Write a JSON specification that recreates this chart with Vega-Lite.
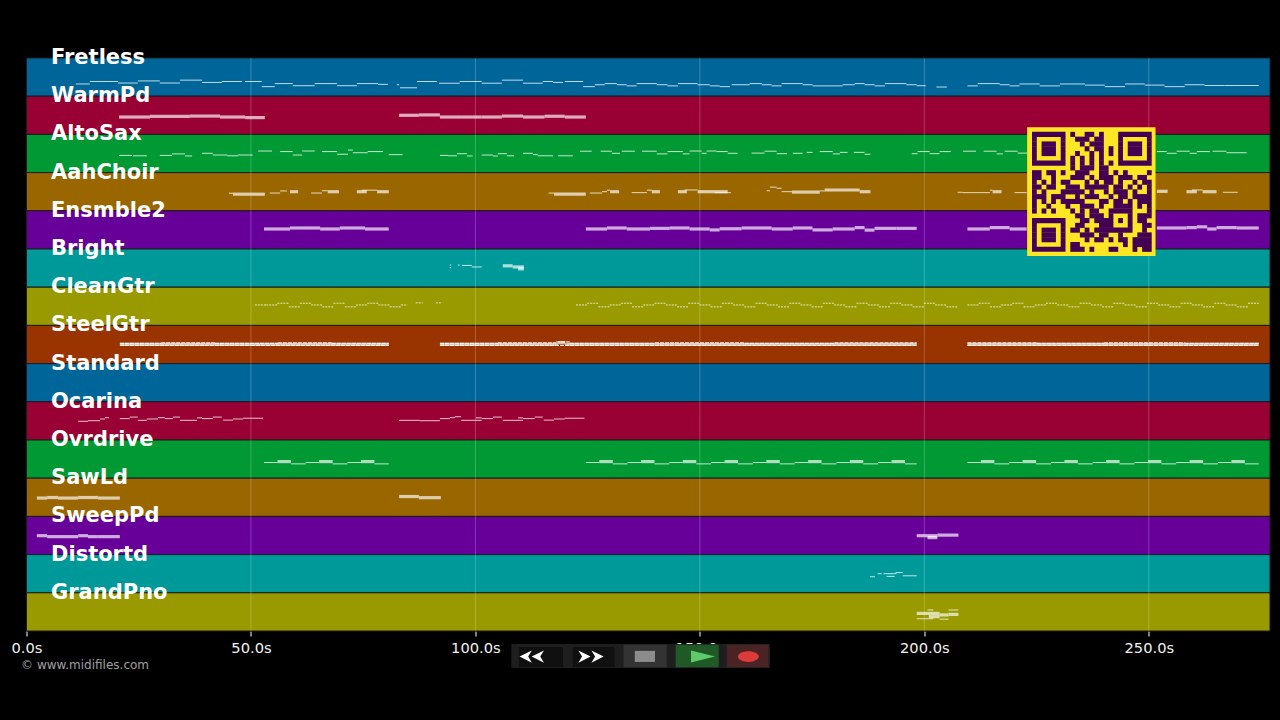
{"$schema":"https://vega.github.io/schema/vega-lite/v6.json","width":1243.5,"height":573,"autosize":"none","padding":{"left":26.5,"top":58,"right":10,"bottom":89},"background":"#000000","config":{"view":{"stroke":null}},
"datasets":{
"bands":[{"name":"Fretless","s":0,"e":277,"p":0,"q":1},{"name":"WarmPd","s":0,"e":277,"p":1,"q":2},{"name":"AltoSax","s":0,"e":277,"p":2,"q":3},{"name":"AahChoir","s":0,"e":277,"p":3,"q":4},{"name":"Ensmble2","s":0,"e":277,"p":4,"q":5},{"name":"Bright","s":0,"e":277,"p":5,"q":6},{"name":"CleanGtr","s":0,"e":277,"p":6,"q":7},{"name":"SteelGtr","s":0,"e":277,"p":7,"q":8},{"name":"Standard","s":0,"e":277,"p":8,"q":9},{"name":"Ocarina","s":0,"e":277,"p":9,"q":10},{"name":"Ovrdrive","s":0,"e":277,"p":10,"q":11},{"name":"SawLd","s":0,"e":277,"p":11,"q":12},{"name":"SweepPd","s":0,"e":277,"p":12,"q":13},{"name":"Distortd","s":0,"e":277,"p":13,"q":14},{"name":"GrandPno","s":0,"e":277,"p":14,"q":15}],
"grid":[{"s":50,"p":0,"q":15},{"s":100,"p":0,"q":15},{"s":150,"p":0,"q":15},{"s":200,"p":0,"q":15},{"s":250,"p":0,"q":15}],
"panels":[{"name":"panel","s":108,"e":165.6,"p":15.34,"q":15.97},{"name":"key","s":109.7,"e":119.5,"p":15.42,"q":15.94},{"name":"key","s":121.7,"e":131,"p":15.42,"q":15.94},{"name":"stopBg","s":133,"e":142.6,"p":15.36,"q":15.95},{"name":"stop","s":135.5,"e":140,"p":15.52,"q":15.81},{"name":"playBg","s":144.6,"e":154.2,"p":15.36,"q":15.95},{"name":"recBg","s":156,"e":165.3,"p":15.36,"q":15.95}],
"thin":[
{"s":11.0,"e":14.1,"p":0.68},{"s":14.1,"e":20.4,"p":0.615},{"s":20.4,"e":24.8,"p":0.655},{"s":24.8,"e":29.7,"p":0.6},{"s":29.7,"e":34.2,"p":0.655},{"s":34.2,"e":39.1,"p":0.58},{"s":39.1,"e":43.5,"p":0.64},{"s":43.5,"e":48.0,"p":0.615},{"s":48.7,"e":52.4,"p":0.615},{"s":52.4,"e":55.3,"p":0.75},{"s":55.3,"e":59.3,"p":0.67},{"s":59.3,"e":64.2,"p":0.725},{"s":64.2,"e":69.2,"p":0.67},{"s":69.2,"e":73.6,"p":0.725},{"s":73.6,"e":78.3,"p":0.67},{"s":78.3,"e":80.5,"p":0.69},{"s":82.5,"e":83,"p":0.7},{"s":83.2,"e":87,"p":0.78},{"s":87,"e":91.4,"p":0.615},{"s":91.9,"e":96.5,"p":0.66},{"s":96.5,"e":101.4,"p":0.615},{"s":101.4,"e":105.9,"p":0.66},{"s":105.9,"e":110.6,"p":0.58},{"s":110.6,"e":115,"p":0.66},{"s":115,"e":117.3,"p":0.615},{"s":117.3,"e":119.5,"p":0.64},{"s":119.9,"e":124,"p":0.615},{"s":124,"e":126.6,"p":0.75},{"s":126.6,"e":128.8,"p":0.7},{"s":128.8,"e":131.5,"p":0.67},{"s":131.5,"e":133.7,"p":0.7},{"s":133.7,"e":135.9,"p":0.73},{"s":135.9,"e":140.4,"p":0.67},{"s":140.4,"e":142.8,"p":0.7},{"s":142.8,"e":145.1,"p":0.73},{"s":145.1,"e":149.5,"p":0.67},{"s":149.5,"e":152.2,"p":0.7},{"s":152.2,"e":154.4,"p":0.73},{"s":154.4,"e":156.7,"p":0.75},{"s":157.1,"e":161.1,"p":0.7},{"s":161.1,"e":163.8,"p":0.67},{"s":163.8,"e":166,"p":0.7},{"s":166,"e":168.2,"p":0.73},{"s":168.2,"e":172.9,"p":0.67},{"s":172.9,"e":175.1,"p":0.7},{"s":175.1,"e":181.8,"p":0.73},{"s":181.8,"e":184.5,"p":0.7},{"s":184.5,"e":186.7,"p":0.67},{"s":186.7,"e":188.9,"p":0.7},{"s":188.9,"e":191.2,"p":0.73},{"s":191.2,"e":196,"p":0.67},{"s":196,"e":198.3,"p":0.7},{"s":198.3,"e":200.3,"p":0.725},{"s":202.7,"e":205,"p":0.76},{"s":209.6,"e":211.9,"p":0.73},{"s":211.9,"e":216.8,"p":0.67},{"s":216.8,"e":219,"p":0.7},{"s":219,"e":221.2,"p":0.73},{"s":221.2,"e":225.7,"p":0.68},{"s":225.7,"e":230.2,"p":0.73},{"s":230.2,"e":235.8,"p":0.68},{"s":235.8,"e":240.2,"p":0.71},{"s":240.2,"e":244.7,"p":0.75},{"s":244.7,"e":249.1,"p":0.68},{"s":249.1,"e":253.5,"p":0.71},{"s":253.5,"e":258,"p":0.75},{"s":258,"e":262.4,"p":0.7},{"s":262.4,"e":266.9,"p":0.72},{"s":266.9,"e":274.5,"p":0.72},
{"s":20.6,"e":23.5,"p":2.55},{"s":23.7,"e":26.8,"p":2.56},{"s":29.7,"e":32.4,"p":2.55},{"s":32.4,"e":35.3,"p":2.51},{"s":35.3,"e":36.9,"p":2.565},{"s":39.1,"e":41.5,"p":2.495},{"s":41.5,"e":44.7,"p":2.54},{"s":44.7,"e":47.1,"p":2.56},{"s":47.1,"e":50.4,"p":2.54},{"s":51.6,"e":54.7,"p":2.435},{"s":56.5,"e":59.3,"p":2.45},{"s":59.3,"e":61.4,"p":2.54},{"s":61.4,"e":64.2,"p":2.435},{"s":65.8,"e":69.2,"p":2.45},{"s":69.2,"e":71.6,"p":2.52},{"s":71.6,"e":72.7,"p":2.41},{"s":72.7,"e":76,"p":2.48},{"s":76,"e":79.4,"p":2.45},{"s":80.7,"e":83.8,"p":2.53},
{"s":92.1,"e":93.9,"p":2.55},{"s":93.9,"e":95.9,"p":2.56},{"s":95.9,"e":98.1,"p":2.505},{"s":98.1,"e":99.4,"p":2.565},{"s":101.4,"e":103.9,"p":2.54},{"s":103.9,"e":105,"p":2.565},{"s":105,"e":107,"p":2.505},{"s":107,"e":108.6,"p":2.56},{"s":110.6,"e":112.8,"p":2.495},{"s":112.8,"e":113.9,"p":2.53},{"s":113.9,"e":117.3,"p":2.56},{"s":118.4,"e":121.7,"p":2.56},{"s":123.3,"e":125.9,"p":2.44},{"s":127.9,"e":130.4,"p":2.44},{"s":130.4,"e":132.2,"p":2.495},{"s":132.6,"e":135.5,"p":2.44},{"s":137.1,"e":140.4,"p":2.44},{"s":140.4,"e":142.8,"p":2.51},{"s":142.8,"e":146.2,"p":2.45},{"s":146.2,"e":147.7,"p":2.51},{"s":147.7,"e":150.4,"p":2.435},{"s":150.4,"e":151.5,"p":2.495},{"s":151.5,"e":153.7,"p":2.435},{"s":153.7,"e":156.2,"p":2.45},{"s":156.2,"e":158.4,"p":2.495},{"s":161.5,"e":164.4,"p":2.49},{"s":164.4,"e":167.1,"p":2.44},{"s":167.1,"e":169.4,"p":2.505},{"s":170.7,"e":172.9,"p":2.495},{"s":173.8,"e":175.1,"p":2.47},{"s":176.7,"e":179.6,"p":2.45},{"s":179.6,"e":181.2,"p":2.51},{"s":181.2,"e":182.9,"p":2.47},{"s":184.3,"e":186.7,"p":2.47},{"s":186.7,"e":188,"p":2.52},{"s":197.2,"e":198.5,"p":2.505},{"s":198.5,"e":201.2,"p":2.45},{"s":201.2,"e":203.4,"p":2.505},{"s":203.4,"e":205.9,"p":2.45},{"s":208.6,"e":211.5,"p":2.44},{"s":213.2,"e":216.1,"p":2.44},{"s":216.1,"e":217.5,"p":2.51},{"s":217.9,"e":220.8,"p":2.44},{"s":220.8,"e":223,"p":2.49},{"s":251.8,"e":254,"p":2.45},{"s":254,"e":256.2,"p":2.495},{"s":256.2,"e":259.1,"p":2.44},{"s":259.1,"e":260.7,"p":2.495},{"s":260.7,"e":263.6,"p":2.45},{"s":264.2,"e":267.3,"p":2.44},{"s":267.3,"e":271.8,"p":2.48},
{"s":45.1,"e":46,"p":3.54},{"s":54.2,"e":56.5,"p":3.535},{"s":56.5,"e":58,"p":3.48},{"s":63.4,"e":65.8,"p":3.535},{"s":65.8,"e":67.1,"p":3.475},{"s":74.7,"e":78.1,"p":3.46},{"s":116.3,"e":117.5,"p":3.535},{"s":125.5,"e":128.2,"p":3.535},{"s":128.2,"e":129.3,"p":3.5},{"s":129.3,"e":130,"p":3.46},{"s":134.8,"e":138.2,"p":3.525},{"s":138.2,"e":139.3,"p":3.46},{"s":146.6,"e":149.5,"p":3.455},{"s":153.3,"e":156.9,"p":3.525},{"s":164.9,"e":165.6,"p":3.475},{"s":165.6,"e":167.1,"p":3.38},{"s":167.1,"e":168.2,"p":3.41},{"s":168.2,"e":170.5,"p":3.5},{"s":176.7,"e":177.8,"p":3.48},{"s":207.4,"e":208.5,"p":3.515},{"s":208.5,"e":214.6,"p":3.525},{"s":214.6,"e":215.2,"p":3.46},{"s":220.1,"e":222.8,"p":3.525},{"s":259.6,"e":262,"p":3.455},{"s":266.5,"e":269.8,"p":3.515},
{"s":94.3,"e":94.6,"p":5.42},{"s":94.3,"e":94.6,"p":5.49},{"s":96.1,"e":96.5,"p":5.42},{"s":97,"e":99.2,"p":5.43},{"s":99.2,"e":101.4,"p":5.47},
{"s":11.5,"e":13.7,"p":9.51},{"s":13.7,"e":16.4,"p":9.495},{"s":16.4,"e":17.5,"p":9.45},{"s":17.5,"e":18.4,"p":9.415},{"s":20.8,"e":23,"p":9.44},{"s":23,"e":24.8,"p":9.4},{"s":24.8,"e":26.8,"p":9.485},{"s":26.8,"e":29.3,"p":9.45},{"s":29.3,"e":30.8,"p":9.415},{"s":30.8,"e":32.6,"p":9.44},{"s":32.6,"e":34.2,"p":9.4},{"s":34.2,"e":38,"p":9.485},{"s":38,"e":39.1,"p":9.42},{"s":39.1,"e":41.5,"p":9.44},{"s":41.5,"e":43.5,"p":9.4},{"s":43.8,"e":46,"p":9.48},{"s":46,"e":48.2,"p":9.45},{"s":48.2,"e":52.7,"p":9.43},{"s":83,"e":87.6,"p":9.485},{"s":87.6,"e":92.1,"p":9.495},{"s":92.1,"e":94.3,"p":9.44},{"s":94.3,"e":95.4,"p":9.415},{"s":95.4,"e":96.8,"p":9.39},{"s":96.8,"e":101.4,"p":9.485},{"s":100.1,"e":101.4,"p":9.42},{"s":101.4,"e":103.9,"p":9.44},{"s":103.9,"e":105.9,"p":9.4},{"s":106.1,"e":110.6,"p":9.485},{"s":109.5,"e":110.6,"p":9.42},{"s":110.6,"e":113.2,"p":9.44},{"s":113.2,"e":115,"p":9.4},{"s":115.2,"e":117.5,"p":9.48},{"s":117.5,"e":119.9,"p":9.45},{"s":119.9,"e":124.3,"p":9.43},
{"s":187.9,"e":189,"p":13.58},{"s":189.6,"e":190.5,"p":13.5},{"s":190.9,"e":193.8,"p":13.5},{"s":191.6,"e":193.4,"p":13.57},{"s":193.6,"e":195.2,"p":13.47},{"s":195.2,"e":198.3,"p":13.555},
{"s":198.3,"e":202,"p":14.68},{"s":203.4,"e":205.4,"p":14.69},{"s":200.7,"e":202,"p":14.45},{"s":205.4,"e":207.6,"p":14.45},
{"s":52.9,"e":55.9,"p":10.59},{"s":58.9,"e":62.2,"p":10.625},{"s":62.2,"e":65.2,"p":10.59},{"s":68.2,"e":71.5,"p":10.625},{"s":71.5,"e":74.5,"p":10.59},{"s":77.5,"e":80.7,"p":10.625},{"s":124.6,"e":127.6,"p":10.59},{"s":130.6,"e":133.9,"p":10.625},{"s":133.9,"e":136.9,"p":10.59},{"s":139.9,"e":143.2,"p":10.625},{"s":143.2,"e":146.2,"p":10.59},{"s":149.2,"e":152.5,"p":10.625},{"s":152.5,"e":155.5,"p":10.59},{"s":158.5,"e":161.8,"p":10.625},{"s":161.8,"e":164.8,"p":10.59},{"s":167.8,"e":171.1,"p":10.625},{"s":171.1,"e":174.1,"p":10.59},{"s":177.1,"e":180.4,"p":10.625},{"s":180.4,"e":183.4,"p":10.59},{"s":186.4,"e":189.7,"p":10.625},{"s":189.7,"e":192.7,"p":10.59},{"s":195.7,"e":198.3,"p":10.625},{"s":209.6,"e":212.6,"p":10.59},{"s":215.6,"e":218.9,"p":10.625},{"s":218.9,"e":221.9,"p":10.59},{"s":224.9,"e":228.2,"p":10.625},{"s":228.2,"e":231.2,"p":10.59},{"s":234.2,"e":237.5,"p":10.625},{"s":237.5,"e":240.5,"p":10.59},{"s":243.5,"e":246.8,"p":10.625},{"s":246.8,"e":249.8,"p":10.59},{"s":252.8,"e":256.1,"p":10.625},{"s":256.1,"e":259.1,"p":10.59},{"s":262.1,"e":265.4,"p":10.625},{"s":265.4,"e":268.4,"p":10.59},{"s":271.4,"e":274.5,"p":10.625}],
"pads":[
{"s":20.6,"e":27.5,"p":1.545},{"s":27.5,"e":36.4,"p":1.53},{"s":36.4,"e":43.1,"p":1.52},{"s":43.1,"e":48.7,"p":1.545},{"s":48.7,"e":53.1,"p":1.56},{"s":83,"e":87.4,"p":1.5},{"s":87.4,"e":92.1,"p":1.49},{"s":92.1,"e":97,"p":1.545},{"s":97,"e":101.4,"p":1.545},{"s":101.4,"e":105.9,"p":1.545},{"s":105.9,"e":110.6,"p":1.52},{"s":110.6,"e":115.4,"p":1.545},{"s":115.4,"e":119.9,"p":1.525},{"s":119.9,"e":124.6,"p":1.545},
{"s":46,"e":53.1,"p":3.565},{"s":58.7,"e":60.5,"p":3.5},{"s":67.1,"e":69.6,"p":3.5},{"s":73.6,"e":75.8,"p":3.5},{"s":78.1,"e":80.7,"p":3.5},{"s":117.5,"e":124.6,"p":3.565},{"s":130,"e":132,"p":3.5},{"s":139.3,"e":141.1,"p":3.5},{"s":145.1,"e":147.1,"p":3.5},{"s":149.5,"e":156.2,"p":3.5},{"s":170.5,"e":176.7,"p":3.51},{"s":177.8,"e":185.6,"p":3.455},{"s":185.6,"e":188,"p":3.5},{"s":215.2,"e":217.2,"p":3.5},{"s":251.8,"e":254.2,"p":3.49},{"s":258.4,"e":260.7,"p":3.5},{"s":262,"e":265.1,"p":3.5},
{"s":52.9,"e":58.7,"p":4.476},{"s":58.7,"e":65.4,"p":4.45},{"s":65.4,"e":69.8,"p":4.476},{"s":69.8,"e":75.4,"p":4.45},{"s":75.4,"e":80.7,"p":4.476},{"s":124.6,"e":129.3,"p":4.476},{"s":129.3,"e":133.7,"p":4.45},{"s":133.7,"e":138.9,"p":4.476},{"s":138.9,"e":143.3,"p":4.46},{"s":143.3,"e":147.7,"p":4.45},{"s":147.7,"e":152.2,"p":4.476},{"s":152.2,"e":154.4,"p":4.5},{"s":154.4,"e":159.3,"p":4.47},{"s":159.3,"e":166,"p":4.45},{"s":166,"e":170.7,"p":4.476},{"s":170.7,"e":175.1,"p":4.45},{"s":175.1,"e":179.6,"p":4.5},{"s":179.6,"e":184.5,"p":4.476},{"s":184.5,"e":186.7,"p":4.44},{"s":186.7,"e":188.9,"p":4.505},{"s":188.9,"e":193.8,"p":4.46},{"s":193.8,"e":198.3,"p":4.46},{"s":209.6,"e":214.6,"p":4.476},{"s":214.6,"e":219,"p":4.44},{"s":219,"e":222.8,"p":4.476},{"s":251.8,"e":258.4,"p":4.45},{"s":258.4,"e":260.7,"p":4.44},{"s":260.7,"e":263,"p":4.42},{"s":263,"e":265.1,"p":4.476},{"s":265.1,"e":269.6,"p":4.44},{"s":269.6,"e":274.5,"p":4.45},
{"s":106.1,"e":108.3,"p":5.44},{"s":108.3,"e":110.8,"p":5.47},{"s":109.5,"e":110.8,"p":5.52},
{"s":20.8,"e":80.7,"p":7.495},{"s":92.1,"e":118.4,"p":7.495},{"s":118.4,"e":120,"p":7.45},{"s":120,"e":198.3,"p":7.495},{"s":209.6,"e":274.5,"p":7.495},
{"s":55.9,"e":58.9,"p":10.565},{"s":65.2,"e":68.2,"p":10.565},{"s":74.5,"e":77.5,"p":10.565},{"s":127.6,"e":130.6,"p":10.565},{"s":136.9,"e":139.9,"p":10.565},{"s":146.2,"e":149.2,"p":10.565},{"s":155.5,"e":158.5,"p":10.565},{"s":164.8,"e":167.8,"p":10.565},{"s":174.1,"e":177.1,"p":10.565},{"s":183.4,"e":186.4,"p":10.565},{"s":192.7,"e":195.7,"p":10.565},{"s":212.6,"e":215.6,"p":10.565},{"s":221.9,"e":224.9,"p":10.565},{"s":231.2,"e":234.2,"p":10.565},{"s":240.5,"e":243.5,"p":10.565},{"s":249.8,"e":252.8,"p":10.565},{"s":259.1,"e":262.1,"p":10.565},{"s":268.4,"e":271.4,"p":10.565},
{"s":2.3,"e":4.6,"p":11.52},{"s":4.6,"e":7,"p":11.505},{"s":7,"e":11.5,"p":11.52},{"s":11.5,"e":15.9,"p":11.505},{"s":15.9,"e":20.8,"p":11.52},{"s":83,"e":87.4,"p":11.48},{"s":87.4,"e":92.3,"p":11.51},
{"s":2.3,"e":4.6,"p":12.505},{"s":4.6,"e":6.8,"p":12.53},{"s":6.8,"e":11.5,"p":12.53},{"s":11.5,"e":13.7,"p":12.505},{"s":13.7,"e":15.9,"p":12.53},{"s":15.9,"e":20.8,"p":12.53},{"s":198.3,"e":202.9,"p":12.505},{"s":200.7,"e":202.9,"p":12.555},{"s":202.9,"e":207.6,"p":12.49},
{"s":198.3,"e":203.4,"p":14.54},{"s":201,"e":203.4,"p":14.625},{"s":203.4,"e":205.4,"p":14.58},{"s":205.4,"e":207.6,"p":14.565}],
"plucked":[
{"s":50.9,"e":53.4,"p":6.465},{"s":53.4,"e":55.9,"p":6.465},{"s":55.9,"e":58.4,"p":6.42},{"s":58.4,"e":60.9,"p":6.515},{"s":60.9,"e":63.4,"p":6.42},{"s":63.4,"e":65.9,"p":6.465},{"s":65.9,"e":68.4,"p":6.515},{"s":68.4,"e":70.9,"p":6.42},{"s":70.9,"e":73.4,"p":6.515},{"s":73.4,"e":75.9,"p":6.465},{"s":75.9,"e":78.4,"p":6.42},{"s":78.4,"e":80.9,"p":6.465},{"s":80.9,"e":83.4,"p":6.515},{"s":83.4,"e":84.8,"p":6.465},{"s":86.7,"e":88.3,"p":6.41},{"s":91.2,"e":92.3,"p":6.41},
{"s":122.4,"e":124.9,"p":6.465},{"s":124.9,"e":127.4,"p":6.42},{"s":127.4,"e":129.9,"p":6.515},{"s":129.9,"e":132.4,"p":6.465},{"s":132.4,"e":134.9,"p":6.42},{"s":134.9,"e":137.4,"p":6.515},{"s":137.4,"e":139.9,"p":6.465},{"s":139.9,"e":142.4,"p":6.42},{"s":142.4,"e":144.9,"p":6.465},{"s":144.9,"e":147.4,"p":6.515},{"s":147.4,"e":149.9,"p":6.42},{"s":149.9,"e":152.4,"p":6.465},{"s":152.4,"e":154.9,"p":6.515},{"s":154.9,"e":157.4,"p":6.42},{"s":157.4,"e":159.9,"p":6.465},{"s":159.9,"e":162.4,"p":6.515},{"s":162.4,"e":164.9,"p":6.42},{"s":164.9,"e":167.4,"p":6.465},{"s":167.4,"e":169.9,"p":6.515},{"s":169.9,"e":172.4,"p":6.42},{"s":172.4,"e":174.9,"p":6.465},{"s":174.9,"e":177.4,"p":6.515},{"s":177.4,"e":179.9,"p":6.42},{"s":179.9,"e":182.4,"p":6.465},{"s":182.4,"e":184.9,"p":6.515},{"s":184.9,"e":187.4,"p":6.42},{"s":187.4,"e":189.9,"p":6.465},{"s":189.9,"e":192.4,"p":6.515},{"s":192.4,"e":194.9,"p":6.42},{"s":194.9,"e":197.4,"p":6.465},{"s":197.4,"e":199.9,"p":6.515},{"s":199.9,"e":202.4,"p":6.42},{"s":202.4,"e":204.9,"p":6.465},{"s":204.9,"e":207.4,"p":6.515},
{"s":209.6,"e":212.1,"p":6.465},{"s":212.1,"e":214.6,"p":6.42},{"s":214.6,"e":217.1,"p":6.515},{"s":217.1,"e":219.6,"p":6.465},{"s":219.6,"e":222.1,"p":6.42},{"s":222.1,"e":224.6,"p":6.515},{"s":224.6,"e":227.1,"p":6.465},{"s":227.1,"e":229.6,"p":6.42},{"s":229.6,"e":232.1,"p":6.465},{"s":232.1,"e":234.6,"p":6.515},{"s":234.6,"e":237.1,"p":6.42},{"s":237.1,"e":239.6,"p":6.465},{"s":239.6,"e":242.1,"p":6.515},{"s":242.1,"e":244.6,"p":6.42},{"s":244.6,"e":247.1,"p":6.465},{"s":247.1,"e":249.6,"p":6.515},{"s":249.6,"e":252.1,"p":6.42},{"s":252.1,"e":254.6,"p":6.465},{"s":254.6,"e":257.1,"p":6.515},{"s":257.1,"e":259.6,"p":6.42},{"s":259.6,"e":262.1,"p":6.465},{"s":262.1,"e":264.6,"p":6.515},{"s":264.6,"e":267.1,"p":6.42},{"s":267.1,"e":269.6,"p":6.465},{"s":269.6,"e":272.1,"p":6.515},{"s":272.1,"e":274.5,"p":6.42}],
"strummed":[
{"s":20.8,"e":30,"p":7.47},{"s":30,"e":42,"p":7.46},{"s":42,"e":56,"p":7.47},{"s":56,"e":68,"p":7.46},{"s":68,"e":80.7,"p":7.47},{"s":20.8,"e":50,"p":7.525},{"s":50,"e":80.7,"p":7.525},
{"s":92.1,"e":105,"p":7.47},{"s":105,"e":118,"p":7.46},{"s":118,"e":121,"p":7.43},{"s":121,"e":140,"p":7.47},{"s":140,"e":160,"p":7.46},{"s":160,"e":180,"p":7.47},{"s":180,"e":198.3,"p":7.46},{"s":92.1,"e":145,"p":7.525},{"s":145,"e":198.3,"p":7.525},
{"s":209.6,"e":225,"p":7.46},{"s":225,"e":240,"p":7.47},{"s":240,"e":258,"p":7.46},{"s":258,"e":274.5,"p":7.47},{"s":209.6,"e":240,"p":7.525},{"s":240,"e":274.5,"p":7.525}],
"rewind":[{"s":111.2,"p":15.67},{"s":113.9,"p":15.67}],
"forward":[{"s":124.3,"p":15.67},{"s":127.2,"p":15.67}],
"play":[{"s":150.7,"p":15.67}],
"record":[{"s":160.8,"p":15.67}],
"credit":[{"label":"© www.midifiles.com","s":-1.2,"p":15.89}],
"qrBox":[{"s":222.9,"e":251.5,"p":1.814,"q":5.183}],
"qr":[
{"r":0,"a":0,"b":7},{"r":0,"a":8,"b":9},{"r":0,"a":11,"b":13},{"r":0,"a":14,"b":15},{"r":0,"a":18,"b":25},
{"r":1,"a":0,"b":1},{"r":1,"a":6,"b":7},{"r":1,"a":9,"b":12},{"r":1,"a":13,"b":15},{"r":1,"a":18,"b":19},{"r":1,"a":24,"b":25},
{"r":2,"a":0,"b":1},{"r":2,"a":2,"b":5},{"r":2,"a":6,"b":7},{"r":2,"a":10,"b":11},{"r":2,"a":12,"b":15},{"r":2,"a":18,"b":19},{"r":2,"a":20,"b":23},{"r":2,"a":24,"b":25},
{"r":3,"a":0,"b":1},{"r":3,"a":2,"b":5},{"r":3,"a":6,"b":7},{"r":3,"a":11,"b":12},{"r":3,"a":13,"b":15},{"r":3,"a":16,"b":17},{"r":3,"a":18,"b":19},{"r":3,"a":20,"b":23},{"r":3,"a":24,"b":25},
{"r":4,"a":0,"b":1},{"r":4,"a":2,"b":5},{"r":4,"a":6,"b":7},{"r":4,"a":9,"b":10},{"r":4,"a":12,"b":13},{"r":4,"a":14,"b":15},{"r":4,"a":16,"b":17},{"r":4,"a":18,"b":19},{"r":4,"a":20,"b":23},{"r":4,"a":24,"b":25},
{"r":5,"a":0,"b":1},{"r":5,"a":6,"b":7},{"r":5,"a":8,"b":9},{"r":5,"a":10,"b":11},{"r":5,"a":12,"b":13},{"r":5,"a":14,"b":15},{"r":5,"a":18,"b":19},{"r":5,"a":24,"b":25},
{"r":6,"a":0,"b":7},{"r":6,"a":8,"b":9},{"r":6,"a":10,"b":11},{"r":6,"a":12,"b":13},{"r":6,"a":14,"b":15},{"r":6,"a":16,"b":17},{"r":6,"a":18,"b":25},
{"r":7,"a":8,"b":9},{"r":7,"a":10,"b":13},{"r":7,"a":14,"b":16},
{"r":8,"a":0,"b":2},{"r":8,"a":3,"b":5},{"r":8,"a":6,"b":7},{"r":8,"a":9,"b":12},{"r":8,"a":14,"b":16},{"r":8,"a":17,"b":18},{"r":8,"a":19,"b":20},{"r":8,"a":24,"b":25},
{"r":9,"a":0,"b":2},{"r":9,"a":4,"b":5},{"r":9,"a":8,"b":11},{"r":9,"a":12,"b":13},{"r":9,"a":14,"b":17},{"r":9,"a":18,"b":21},{"r":9,"a":22,"b":24},
{"r":10,"a":0,"b":1},{"r":10,"a":2,"b":3},{"r":10,"a":4,"b":5},{"r":10,"a":6,"b":8},{"r":10,"a":11,"b":12},{"r":10,"a":13,"b":14},{"r":10,"a":15,"b":17},{"r":10,"a":18,"b":19},{"r":10,"a":21,"b":22},{"r":10,"a":23,"b":25},
{"r":11,"a":0,"b":2},{"r":11,"a":3,"b":5},{"r":11,"a":7,"b":10},{"r":11,"a":11,"b":16},{"r":11,"a":17,"b":19},{"r":11,"a":20,"b":21},{"r":11,"a":22,"b":23},{"r":11,"a":24,"b":25},
{"r":12,"a":0,"b":1},{"r":12,"a":2,"b":3},{"r":12,"a":6,"b":11},{"r":12,"a":12,"b":13},{"r":12,"a":15,"b":16},{"r":12,"a":17,"b":20},{"r":12,"a":21,"b":22},{"r":12,"a":24,"b":25},
{"r":13,"a":0,"b":3},{"r":13,"a":4,"b":7},{"r":13,"a":9,"b":10},{"r":13,"a":11,"b":14},{"r":13,"a":16,"b":17},{"r":13,"a":18,"b":20},{"r":13,"a":21,"b":25},
{"r":14,"a":0,"b":1},{"r":14,"a":2,"b":3},{"r":14,"a":4,"b":5},{"r":14,"a":6,"b":11},{"r":14,"a":14,"b":16},{"r":14,"a":17,"b":19},{"r":14,"a":20,"b":21},{"r":14,"a":22,"b":25},
{"r":15,"a":0,"b":1},{"r":15,"a":3,"b":4},{"r":15,"a":7,"b":8},{"r":15,"a":10,"b":13},{"r":15,"a":14,"b":15},{"r":15,"a":17,"b":21},{"r":15,"a":22,"b":23},{"r":15,"a":24,"b":25},
{"r":16,"a":0,"b":1},{"r":16,"a":2,"b":3},{"r":16,"a":4,"b":5},{"r":16,"a":8,"b":9},{"r":16,"a":10,"b":11},{"r":16,"a":12,"b":14},{"r":16,"a":16,"b":21},{"r":16,"a":24,"b":25},
{"r":17,"a":9,"b":11},{"r":17,"a":12,"b":15},{"r":17,"a":16,"b":17},{"r":17,"a":20,"b":21},{"r":17,"a":22,"b":25},
{"r":18,"a":0,"b":7},{"r":18,"a":10,"b":12},{"r":18,"a":13,"b":17},{"r":18,"a":18,"b":19},{"r":18,"a":20,"b":21},{"r":18,"a":22,"b":24},
{"r":19,"a":0,"b":1},{"r":19,"a":6,"b":7},{"r":19,"a":9,"b":11},{"r":19,"a":14,"b":17},{"r":19,"a":20,"b":21},{"r":19,"a":23,"b":25},
{"r":20,"a":0,"b":1},{"r":20,"a":2,"b":5},{"r":20,"a":6,"b":7},{"r":20,"a":8,"b":10},{"r":20,"a":11,"b":12},{"r":20,"a":13,"b":21},{"r":20,"a":23,"b":24},
{"r":21,"a":0,"b":1},{"r":21,"a":2,"b":5},{"r":21,"a":6,"b":7},{"r":21,"a":10,"b":13},{"r":21,"a":14,"b":16},{"r":21,"a":18,"b":19},{"r":21,"a":22,"b":25},
{"r":22,"a":0,"b":1},{"r":22,"a":2,"b":5},{"r":22,"a":6,"b":7},{"r":22,"a":11,"b":12},{"r":22,"a":13,"b":15},{"r":22,"a":16,"b":17},{"r":22,"a":18,"b":20},{"r":22,"a":21,"b":25},
{"r":23,"a":0,"b":1},{"r":23,"a":6,"b":7},{"r":23,"a":8,"b":10},{"r":23,"a":19,"b":20},{"r":23,"a":21,"b":25},
{"r":24,"a":0,"b":7},{"r":24,"a":8,"b":11},{"r":24,"a":12,"b":13},{"r":24,"a":16,"b":18},{"r":24,"a":21,"b":22},{"r":24,"a":23,"b":25}]
},
"layer":[
{"encoding":{
"x":{"field":"s","type":"quantitative","scale":{"domain":[0,277],"nice":false,"zero":false},"axis":{"values":[0,50,100,150,200,250],"labelExpr":"format(datum.value,'.1f')+'s'","grid":false,"domain":false,"ticks":true,"tickColor":"#ffffff","tickSize":5,"labelColor":"#f0f0f0","labelFontSize":14.67,"labelFont":"DejaVu Sans","title":null,"labelPadding":4,"labelFlush":false,"zindex":0}},
"y":{"field":"p","type":"quantitative","scale":{"domain":[0,15],"range":[0,573],"nice":false,"zero":false},"axis":null}},
"layer":[
{"data":{"name":"bands"},"mark":{"type":"rect","stroke":"#1c1c1c","strokeWidth":1},"encoding":{"x2":{"field":"e"},"y2":{"field":"q"},"color":{"field":"name","type":"nominal","legend":null,"scale":{"domain":["Fretless","WarmPd","AltoSax","AahChoir","Ensmble2","Bright","CleanGtr","SteelGtr","Standard","Ocarina","Ovrdrive","SawLd","SweepPd","Distortd","GrandPno"],"range":["#006699","#990033","#009933","#996600","#660099","#009999","#999900","#993300","#006699","#990033","#009933","#996600","#660099","#009999","#999900"]}}}},
{"data":{"name":"grid"},"mark":{"type":"rule","color":"#ffffff","opacity":0.22,"strokeWidth":1},"encoding":{"y2":{"field":"q"}}},
{"data":{"name":"pads"},"mark":{"type":"rule","color":"#ffffff","opacity":0.68,"strokeWidth":3.2},"encoding":{"x2":{"field":"e"}}},
{"data":{"name":"thin"},"mark":{"type":"rule","color":"#ffffff","opacity":0.85,"strokeWidth":0.9},"encoding":{"x2":{"field":"e"}}},
{"data":{"name":"plucked"},"mark":{"type":"rule","color":"#ffffff","opacity":0.85,"strokeWidth":0.9,"strokeDash":[2,1]},"encoding":{"x2":{"field":"e"}}},
{"data":{"name":"strummed"},"mark":{"type":"rule","color":"#ffffff","opacity":0.85,"strokeWidth":1.2,"strokeDash":[4,1]},"encoding":{"x2":{"field":"e"}}},
{"data":{"name":"bands"},"mark":{"type":"text","font":"DejaVu Sans","fontWeight":"bold","fontSize":21,"color":"#ffffff","align":"left","baseline":"middle","dy":0},"encoding":{"x":{"datum":5.46,"type":"quantitative"},"text":{"field":"name"}}},
{"data":{"name":"qrBox"},"mark":{"type":"rect","color":"#fde725"},"encoding":{"x2":{"field":"e"},"y2":{"field":"q"}}},
{"data":{"name":"panels"},"mark":{"type":"rect"},"encoding":{"x2":{"field":"e"},"y2":{"field":"q"},"color":{"field":"name","type":"nominal","legend":null,"scale":{"domain":["panel","key","stopBg","stop","playBg","recBg"],"range":["#1e1e1e","#101010","#333333","#8c8c8c","#1f5a26","#4a2424"]}}}},
{"data":{"name":"rewind"},"mark":{"type":"point","filled":true,"shape":"M1,-1L-1,0L1,1L0.4,0Z","size":150,"color":"#ffffff","opacity":1}},
{"data":{"name":"forward"},"mark":{"type":"point","filled":true,"shape":"M-1,-1L1,0L-1,1L-0.4,0Z","size":150,"color":"#ffffff","opacity":1}},
{"data":{"name":"play"},"mark":{"type":"point","filled":true,"shape":"M-1,-0.5L1,0L-1,0.5Z","size":576,"color":"#5fca68","opacity":1}},
{"data":{"name":"record"},"mark":{"type":"point","filled":true,"shape":"M-1,0A1,0.52 0 1,1 1,0A1,0.52 0 1,1 -1,0Z","size":441,"color":"#dd3a3a","opacity":1}},
{"data":{"name":"credit"},"mark":{"type":"text","font":"DejaVu Sans","fontSize":12,"color":"#a0a0a0","align":"left","baseline":"middle"},"encoding":{"text":{"field":"label"}}}
],
"resolve":{"scale":{"color":"independent"}}},
{"data":{"name":"qr"},"mark":{"type":"rule","color":"#440154","strokeWidth":5.1},"encoding":{
"x":{"field":"a","type":"quantitative","scale":{"domain":[0,25],"range":[1005.5,1125.2],"nice":false,"zero":false},"axis":null},
"x2":{"field":"b"},
"y":{"field":"r","type":"quantitative","scale":{"domain":[-0.5,24.5],"range":[74,193.7],"nice":false,"zero":false},"axis":null}}}
],
"resolve":{"scale":{"x":"independent","y":"independent"}}}
